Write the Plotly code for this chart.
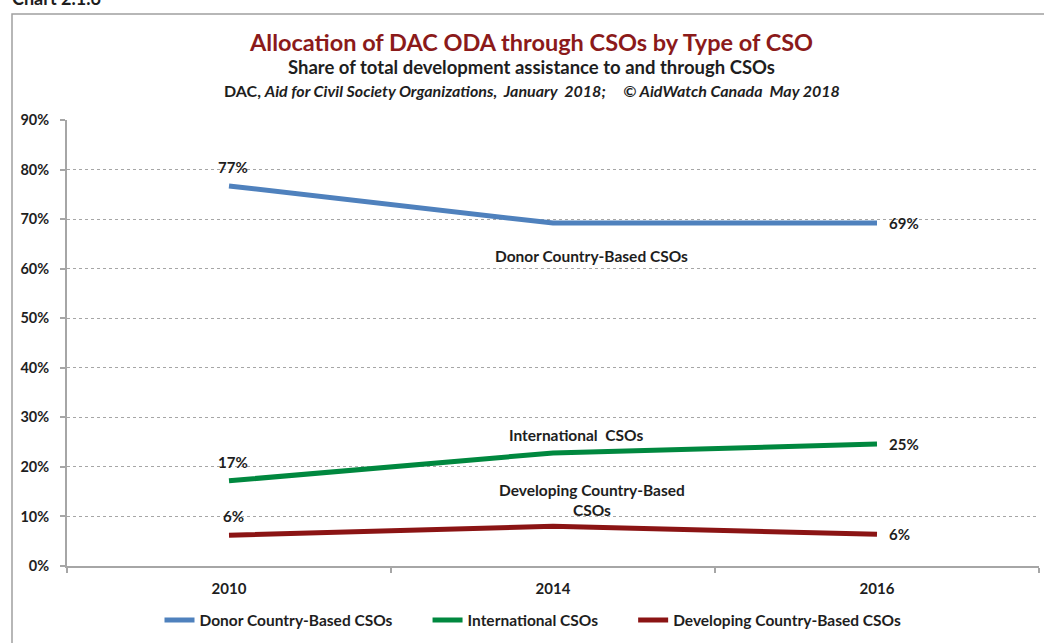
import plotly.graph_objects as go

years = ["2010", "2014", "2016"]
donor_based = [76.7, 69.2, 69.2]
international = [17.2, 22.8, 24.6]
developing_based = [6.2, 8.0, 6.4]

series_names = ["Donor Country-Based CSOs", "International CSOs", "Developing Country-Based CSOs"]
series_colors = ["#4F81BD", "#00883F", "#8B1414"]
y_ticks = list(range(0, 100, 10))
y_tick_text = [f"{v}%" for v in y_ticks]

FONT = "Lato"
DARK = "#1E1E1E"
PAD = "\u00a0" * 8

fig = go.Figure()

first, last = 0, len(years) - 1
for i, (name, vals, color) in enumerate(zip(series_names, [donor_based, international, developing_based], series_colors)):
    legend_name = name + (PAD if i < len(series_names) - 1 else "")
    fig.add_trace(go.Scatter(
        x=years, y=vals, name=legend_name, mode="lines",
        line=dict(color=color, width=5),
        hoverinfo="skip",
    ))
    # value labels: first year above the point, last year to the right
    fig.add_annotation(x=first, y=vals[first], text=f"<b>{round(vals[first])}%</b>", showarrow=False,
                       xanchor="center", yanchor="middle", xshift=4, yshift=19,
                       font=dict(family=FONT, size=15, color=DARK))
    fig.add_annotation(x=last, y=vals[last], text=f"<b>{round(vals[last])}%</b>", showarrow=False,
                       xanchor="left", yanchor="middle", xshift=10,
                       font=dict(family=FONT, size=15, color=DARK))

# series name labels inside the plot
fig.add_annotation(x=1.12, y=62.6, text="<b>Donor Country-Based CSOs</b>", showarrow=False,
                   font=dict(family=FONT, size=15.5, color=DARK))
fig.add_annotation(x=1.07, y=26.4, text="<b>International  CSOs</b>", showarrow=False,
                   font=dict(family=FONT, size=15.5, color=DARK))
fig.add_annotation(x=1.12, y=13.4, text="<b>Developing Country-Based<br>CSOs</b>", showarrow=False,
                   font=dict(family=FONT, size=15.5, color=DARK))

TOP, BOTTOM = 120, 570

def py(pix):
    return (BOTTOM - pix) / (BOTTOM - TOP)

def px(pix):
    return (pix - 67) / 972

fig.add_annotation(xref="paper", yref="paper", x=px(531), y=py(41), yanchor="middle",
                   text="<b>Allocation of DAC ODA through CSOs by Type of CSO</b>",
                   showarrow=False, font=dict(family=FONT, size=23.5, color="#8B1A1A"))
fig.add_annotation(xref="paper", yref="paper", x=px(531), y=py(67), yanchor="middle",
                   text="<b>Share of total development assistance to and through CSOs</b>",
                   showarrow=False, font=dict(family=FONT, size=18.5, color=DARK))
fig.add_annotation(xref="paper", yref="paper", x=px(532), y=py(90), yanchor="middle",
                   text="<b>DAC, <i>Aid for Civil Society Organizations,  January  2018;     © AidWatch Canada  May 2018</i></b>",
                   showarrow=False, font=dict(family=FONT, size=16, color=DARK))
fig.add_annotation(xref="paper", yref="paper", x=px(10), y=py(-3), xanchor="left", yanchor="middle",
                   text="<b>Chart 2.1.6</b>", showarrow=False,
                   font=dict(family=FONT, size=18, color=DARK))

# outer frame of the chart
fig.add_shape(type="rect", xref="paper", yref="paper",
              x0=px(12), x1=px(1100), y0=py(700), y1=py(13),
              line=dict(color="#A0A0A0", width=1.5), fillcolor="rgba(0,0,0,0)")

fig.update_layout(
    width=1044, height=643,
    margin=dict(l=67, r=5, t=TOP, b=643 - BOTTOM - 4),
    paper_bgcolor="white", plot_bgcolor="white",
    font=dict(family=FONT, color=DARK),
    showlegend=True,
    legend=dict(orientation="h", x=px(533), xanchor="center", y=py(625), yanchor="middle",
                font=dict(family=FONT, size=15.5, color=DARK, weight="bold"),
                itemwidth=30, tracegroupgap=0, bgcolor="rgba(0,0,0,0)"),
    xaxis=dict(
        type="category", range=[-0.5, 2.5], tickson="boundaries",
        showline=True, linecolor="#A6A6A6", linewidth=2,
        ticks="outside", ticklen=5, tickcolor="#A6A6A6", tickwidth=1.5,
        showgrid=False,
        tickfont=dict(family=FONT, size=15, color=DARK, weight="bold"),
        ticklabelstandoff=8,
    ),
    yaxis=dict(
        range=[0, 90], tickvals=y_ticks, ticktext=y_tick_text,
        showline=True, linecolor="#A6A6A6", linewidth=2,
        ticks="outside", ticklen=5, tickcolor="#A6A6A6", tickwidth=1.5,
        showgrid=True, gridcolor="#A6A6A6", griddash="dot", gridwidth=1,
        zeroline=False,
        tickfont=dict(family=FONT, size=14.5, color=DARK, weight="bold"),
        ticklabelstandoff=8,
    ),
)

fig.write_html("out.html")
